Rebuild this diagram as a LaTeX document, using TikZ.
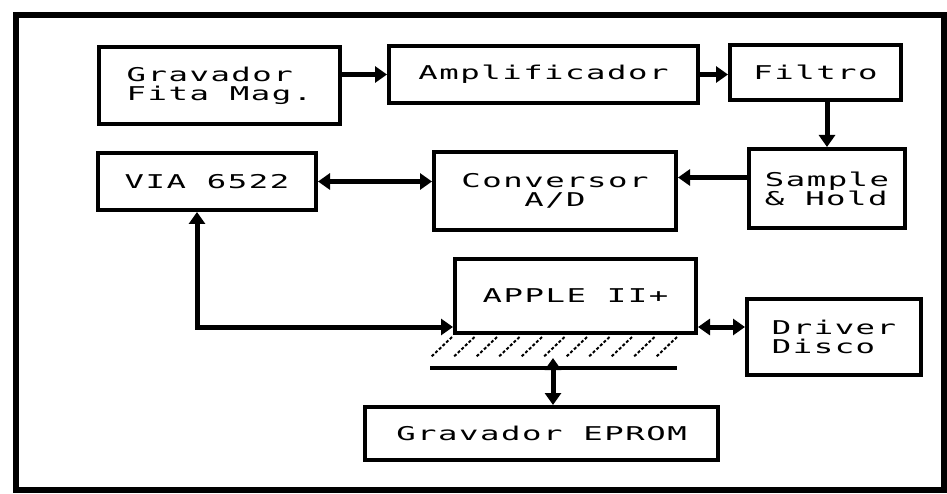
\documentclass[tikz,border=0pt]{standalone}
\usepackage{fontspec}
\newfontfamily\dotfont[FakeStretch=1.7,LetterSpace=8]{DejaVu Sans Mono}
\usetikzlibrary{arrows.meta, calc}

\begin{document}
\begin{tikzpicture}[
  x=1pt, y=-1pt,
  box/.style={rectangle, draw=black, line width=4pt, inner sep=0pt,
              font=\dotfont\fontsize{19}{19}\selectfont, align=#1},
  box/.default=left,
  arr/.style={-{Triangle[length=12pt, width=16pt]}, line width=5pt},
  dbl/.style={{Triangle[length=12pt, width=16pt]}-{Triangle[length=12pt, width=16pt]}, line width=5pt},
  hatch/.style={line width=2pt, dash pattern=on 3pt off 2pt}
]
\useasboundingbox (0,0) rectangle (947,494);

% Frame
\draw[line width=6pt] (16,15) rectangle (944,490);

% Nodes (top row, middle row, bottom)
\node[box, minimum width=241pt, minimum height=77pt] (grav)  at (219.5,85.5) {Gravador\\Fita Mag.};
\node[box, minimum width=309pt, minimum height=57pt] (ampl)  at (543.5,74.5) {Amplificador};
\node[box, minimum width=171pt, minimum height=55pt] (filt)  at (815.5,72.5) {Filtro};
\node[box, minimum width=218pt, minimum height=57pt] (via)   at (207,181.5)  {VIA 6522};
\node[box=center, minimum width=242pt, minimum height=78pt] (conv) at (555,191) {Conversor\\A/D};
\node[box, minimum width=156pt, minimum height=79pt] (samp)  at (827,188.5)  {Sample\\\& Hold};
\node[box, minimum width=241pt, minimum height=74pt] (apple) at (575.5,296)  {APPLE II+};
\node[box, minimum width=174pt, minimum height=76pt] (drv)   at (834,337)    {Driver\\Disco};
\node[box, minimum width=353pt, minimum height=53pt] (eprom) at (541.5,433.5) {Gravador EPROM};

% Bus under the Apple
\foreach \x in {452,474.5,...,698}
  \draw[hatch] (\x,337) -- ++(-21,20);
\draw[line width=4pt] (430,368) -- (677,368);
\coordinate (bus) at (553,358);

% Arrows
\draw[arr] (grav.east |- ampl.west) -- (ampl.west);
\draw[arr] (ampl.east) -- (ampl.east -| filt.west);
\draw[arr] (samp.north |- filt.south) -- (samp.north);
\coordinate (sh) at ([yshift=11pt]samp.west);
\draw[arr] (sh) -- (sh -| conv.east);
\draw[dbl] (via.east) -- (via.east -| conv.west);
\coordinate (vb) at ([xshift=-10pt]via.south);
\coordinate (ab) at ([yshift=-31pt]apple.west);
\draw[dbl] (vb) |- (ab);
\draw[dbl] (ab -| apple.east) -- (ab -| drv.west);
\draw[dbl] (bus) -- (bus |- eprom.north);

\end{tikzpicture}
\end{document}
